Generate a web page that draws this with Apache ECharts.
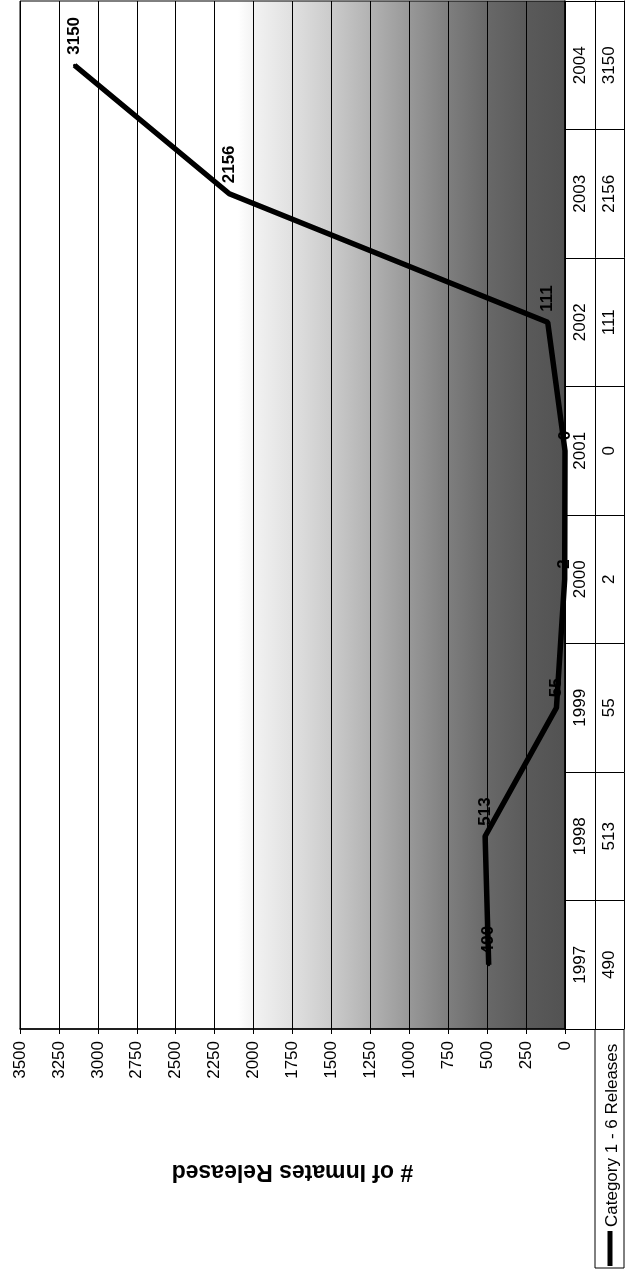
<!DOCTYPE html>
<html>
<head>
<meta charset="utf-8">
<script src="https://cdn.jsdelivr.net/npm/echarts@6/dist/echarts.min.js"></script>
<style>
html,body{margin:0;padding:0;background:#fff;}
#chart{width:627px;height:1274px;}
</style>
</head>
<body>
<div id="chart"></div>
<script>
// ---- data ----
const years = ['1997', '1998', '1999', '2000', '2001', '2002', '2003', '2004'];
const releases = [490, 513, 55, 2, 0, 111, 2156, 3150];
const seriesName = 'Category 1 - 6 Releases';
const axisTitle = '# of Inmates Released';
const valueMin = 0;
const valueMax = 3500;
const valueStep = 250;

// ---- rendering ----
const FONT = '"Liberation Sans", Arial, sans-serif';
const chart = echarts.init(document.getElementById('chart'), null, { renderer: 'canvas' });

const bg = new echarts.graphic.LinearGradient(0, 0, 1, 0, [
  { offset: 0.0, color: '#ffffff' },
  { offset: 0.40, color: '#ffffff' },
  { offset: 0.43, color: '#f2f2f2' },
  { offset: 0.50, color: '#e0e0e0' },
  { offset: 0.571, color: '#cbcbcb' },
  { offset: 0.643, color: '#b2b2b2' },
  { offset: 0.714, color: '#989898' },
  { offset: 0.786, color: '#7e7e7e' },
  { offset: 0.857, color: '#686868' },
  { offset: 0.929, color: '#5a5a5a' },
  { offset: 1.0, color: '#525252' }
]);

const option = {
  animation: false,
  backgroundColor: '#ffffff',
  textStyle: { fontFamily: FONT },
  grid: {
    left: 20, right: 62, top: 1, bottom: 245,
    show: true, backgroundColor: bg, borderColor: '#000', borderWidth: 1
  },
  xAxis: {
    type: 'value',
    min: valueMin, max: valueMax, interval: valueStep,
    inverse: true,
    position: 'bottom',
    name: axisTitle,
    nameLocation: 'middle',
    nameGap: 131,
    nameRotate: 180,
    nameTextStyle: { fontSize: 23, fontWeight: 'bold', color: '#000', fontFamily: FONT },
    axisLine: { show: true, lineStyle: { color: '#000', width: 1.5 } },
    axisTick: { show: true, length: 5, lineStyle: { color: '#000', width: 1 } },
    axisLabel: {
      rotate: 90, margin: 12, fontSize: 17, color: '#000', fontFamily: FONT,
      formatter: function (v) { return String(v); }
    },
    splitLine: { show: true, lineStyle: { color: '#000', width: 1 } }
  },
  yAxis: [
    {
      type: 'category', data: years, position: 'right', boundaryGap: true,
      axisLine: { show: true, lineStyle: { color: '#000', width: 1.5 } },
      axisTick: { show: true, interval: 0, length: 59, lineStyle: { color: '#000', width: 1 } },
      axisLabel: { interval: 0, rotate: 90, margin: 7, fontSize: 17, color: '#000', fontFamily: FONT },
      splitLine: { show: false }
    },
    {
      type: 'category', data: years, position: 'right', offset: 30, boundaryGap: true,
      axisLine: { show: true, lineStyle: { color: '#000', width: 1 } },
      axisTick: { show: false },
      axisLabel: {
        interval: 0, rotate: 90, margin: 6, fontSize: 17, color: '#000', fontFamily: FONT,
        formatter: function (v, i) { return String(releases[i]); }
      },
      splitLine: { show: false }
    },
    {
      type: 'category', data: years, position: 'right', offset: 59, boundaryGap: true,
      axisLine: { show: true, lineStyle: { color: '#000', width: 1 } },
      axisTick: { show: false },
      axisLabel: { show: false },
      splitLine: { show: false }
    }
  ],
  series: [
    {
      type: 'line',
      name: seriesName,
      data: releases,
      xAxisIndex: 0,
      yAxisIndex: 0,
      symbol: 'circle',
      symbolSize: 3,
      showSymbol: true,
      itemStyle: { color: '#000' },
      lineStyle: { color: '#000', width: 5.5 },
      label: {
        show: true, position: 'top', distance: 9, rotate: 90,
        align: 'left', verticalAlign: 'middle',
        fontSize: 17, fontWeight: 'bold', color: '#000', fontFamily: FONT
      }
    }
  ],
  graphic: [
    {
      type: 'polyline',
      shape: { points: [[595, 1029], [595, 1268], [624, 1268], [624, 1029]] },
      style: { stroke: '#000', lineWidth: 1, fill: 'transparent' }
    },
    {
      type: 'line',
      shape: { x1: 610, y1: 1231, x2: 610, y2: 1266 },
      style: { stroke: '#000', lineWidth: 5 }
    },
    {
      type: 'text',
      x: 612.5, y: 1227,
      rotation: Math.PI / 2,
      style: {
        text: seriesName,
        fontSize: 17, fontFamily: FONT, fill: '#000',
        align: 'left', verticalAlign: 'middle',
        textAlign: 'left', textVerticalAlign: 'middle'
      }
    }
  ]
};

chart.setOption(option);
</script>
</body>
</html>
